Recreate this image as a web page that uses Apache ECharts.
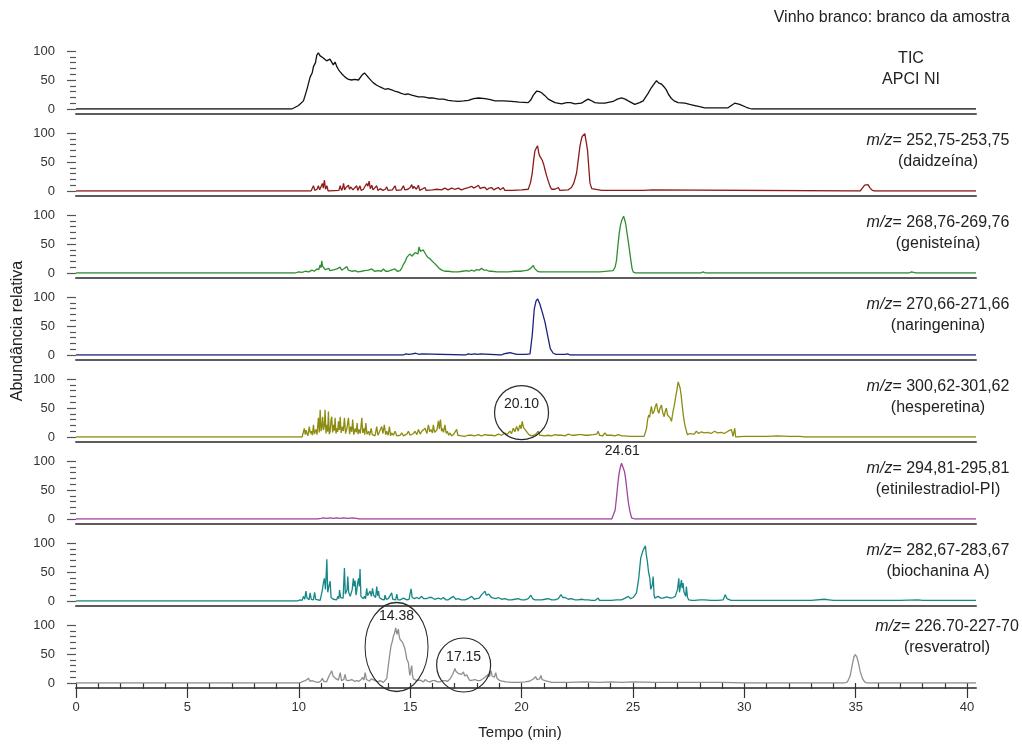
<!DOCTYPE html>
<html><head><meta charset="utf-8">
<script src="https://cdn.jsdelivr.net/npm/echarts@6/dist/echarts.min.js"></script>
<style>html,body{margin:0;padding:0;background:#fff}#c{width:1022px;height:745px}</style>
</head><body><div id="c"></div>
<script>
// ---------- tick labels ----------
const xTickLabels = [0, 5, 10, 15, 20, 25, 30, 35, 40];
const xMinorTicks = [0,1,2,3,4,5,6,7,8,9,10,11,12,13,14,15,16,17,18,19,20,21,22,23,24,25,26,27,28,29,30,31,32,33,34,35,36,37,38,39,40];
const yTickLabels = [0, 50, 100];

// ---------- texts ----------
const chartTitle = 'Vinho branco: branco da amostra';
const xAxisName = 'Tempo (min)';
const yAxisName = 'Abundância relativa';
const traceLine1 = ['TIC', '{i|m/z}= 252,75-253,75', '{i|m/z}= 268,76-269,76', '{i|m/z}= 270,66-271,66', '{i|m/z}= 300,62-301,62', '{i|m/z}= 294,81-295,81', '{i|m/z}= 282,67-283,67', '{i|m/z}= 226.70-227-70'];
const traceLine2 = ['APCI NI', '(daidzeína)', '(genisteína)', '(naringenina)', '(hesperetina)', '(etinilestradiol-PI)', '(biochanina A)', '(resveratrol)'];

// ---------- series data: [time (min), relative abundance] ----------
const tic = [[0,0],[9.69,0],[9.76,3],[9.99,6],[10.21,14],[10.36,33],[10.51,55],[10.6,62],[10.66,73],[10.75,80],[10.81,93],[10.88,97],[10.95,92],[11.03,94],[11.1,88],[11.18,87],[11.25,83],[11.33,81],[11.4,86],[11.48,84],[11.55,76],[11.63,81],[11.71,73],[11.78,68],[11.86,64],[11.95,60],[12.08,55],[12.15,52],[12.23,51],[12.38,50],[12.5,51],[12.68,50],[12.83,58],[12.95,62],[13.05,58],[13.13,54],[13.25,49],[13.35,45],[13.5,41],[13.65,38],[13.87,34],[14.0,35],[14.17,33],[14.3,31],[14.47,29],[14.6,27],[14.77,25],[14.9,26],[15.07,24],[15.37,21],[15.6,21],[15.82,19],[16.0,19],[16.27,17],[16.5,17],[16.71,15],[16.9,14],[17.16,13],[17.4,14],[17.61,15],[17.85,18],[18.06,19],[18.36,18],[18.6,16],[18.81,14],[19.2,14],[19.55,13],[19.9,12],[20.3,11],[20.42,16],[20.53,24],[20.68,31],[20.8,30],[20.9,28],[21.05,23],[21.2,17],[21.5,11],[21.8,9],[22.02,11],[22.2,11],[22.39,9],[22.69,10],[22.85,14],[22.99,17],[23.1,15],[23.29,11],[23.5,10],[23.74,10],[24.11,13],[24.3,17],[24.49,19],[24.65,17],[24.79,14],[25.08,8],[25.3,11],[25.46,14],[25.68,27],[25.8,35],[25.91,41],[26.06,49],[26.15,45],[26.28,43],[26.4,38],[26.5,33],[26.6,25],[26.73,18],[26.85,14],[27.03,11],[27.33,10],[27.55,8],[27.78,6],[28.0,4],[28.22,2],[29.27,2],[29.45,7],[29.57,10],[29.79,8],[30.09,3],[30.32,0],[40.4,0]];

const daidzeina = [[0,0],[10.55,0],[10.6,2],[10.66,9],[10.72,1],[10.82,3],[10.88,9],[10.94,2],[11.0,4],[11.06,13],[11.1,5],[11.15,19],[11.2,3],[11.26,9],[11.32,0],[11.8,1],[11.86,9],[11.92,1],[11.97,5],[12.01,13],[12.06,2],[12.12,6],[12.18,4],[12.23,10],[12.28,3],[12.33,7],[12.38,10],[12.43,2],[12.5,5],[12.6,9],[12.65,1],[12.7,5],[12.75,9],[12.8,1],[12.9,3],[12.98,6],[13.05,13],[13.1,8],[13.16,17],[13.21,4],[13.28,10],[13.33,2],[13.4,5],[13.5,9],[13.55,1],[13.65,4],[13.72,7],[13.78,1],[13.88,3],[13.95,7],[14.0,1],[14.2,2],[14.32,9],[14.38,1],[14.6,2],[14.7,9],[14.76,2],[14.9,3],[15.0,6],[15.07,11],[15.12,4],[15.17,8],[15.22,9],[15.28,3],[15.37,10],[15.43,1],[15.67,6],[15.72,1],[16.0,2],[16.2,3],[16.4,2],[16.56,5],[16.7,2],[16.86,5],[17.0,3],[17.16,5],[17.3,2],[17.45,4],[17.61,6],[17.76,8],[17.85,5],[17.95,7],[18.06,10],[18.15,4],[18.25,6],[18.36,6],[18.45,2],[18.55,5],[18.66,6],[18.75,2],[18.85,4],[18.96,6],[19.05,2],[19.18,6],[19.25,1],[19.6,1],[20.0,2],[20.3,3],[20.4,14],[20.48,31],[20.55,55],[20.6,69],[20.66,74],[20.72,78],[20.77,66],[20.82,60],[20.88,62],[20.93,53],[21.0,45],[21.05,37],[21.12,27],[21.2,17],[21.28,8],[21.35,3],[21.5,3],[21.65,6],[21.72,1],[21.8,1],[22.1,2],[22.24,6],[22.35,14],[22.47,31],[22.55,55],[22.62,77],[22.68,88],[22.72,94],[22.78,91],[22.84,99],[22.9,85],[22.96,71],[23.02,40],[23.07,14],[23.15,4],[23.22,1],[23.6,1],[24.0,1],[24.5,1],[25.0,1],[25.5,1],[25.85,2],[25.9,0],[35.2,0],[35.3,5],[35.4,10],[35.47,13],[35.55,11],[35.65,5],[35.75,1],[35.85,0],[40.4,0]];

const genisteina = [[0,0],[9.85,0],[9.99,2],[10.15,1],[10.29,3],[10.45,2],[10.59,5],[10.7,3],[10.81,7],[10.9,6],[10.96,14],[11.0,9],[11.03,21],[11.07,12],[11.11,10],[11.18,6],[11.26,5],[11.35,8],[11.4,4],[11.48,4],[11.6,6],[11.71,7],[11.78,4],[11.86,10],[11.92,5],[12.01,7],[12.08,4],[12.16,11],[12.22,5],[12.3,5],[12.4,3],[12.53,4],[12.65,2],[12.83,3],[12.95,4],[13.13,5],[13.2,3],[13.28,7],[13.4,3],[13.58,4],[13.7,3],[13.8,7],[13.9,3],[14.02,3],[14.15,5],[14.32,7],[14.42,3],[14.55,4],[14.63,9],[14.7,15],[14.78,20],[14.85,27],[14.92,24],[14.99,33],[15.07,29],[15.14,30],[15.22,35],[15.29,38],[15.35,33],[15.4,45],[15.46,37],[15.52,35],[15.58,40],[15.64,39],[15.72,31],[15.79,27],[15.88,25],[15.97,21],[16.08,17],[16.19,13],[16.3,8],[16.42,5],[16.55,3],[16.71,3],[16.9,2],[17.16,2],[17.35,3],[17.54,4],[17.65,3],[17.76,5],[17.88,3],[17.98,6],[18.1,5],[18.21,8],[18.3,5],[18.43,5],[18.55,3],[18.66,3],[18.9,2],[19.11,2],[19.4,2],[19.7,3],[19.95,3],[20.15,4],[20.28,5],[20.38,7],[20.45,6],[20.53,13],[20.58,8],[20.63,7],[20.72,3],[20.82,2],[21.5,2],[22.5,2],[23.5,2],[24.11,4],[24.2,10],[24.26,21],[24.32,45],[24.38,67],[24.44,82],[24.49,90],[24.54,88],[24.58,98],[24.63,92],[24.68,84],[24.73,70],[24.79,55],[24.85,38],[24.91,21],[24.96,8],[25.01,2],[25.1,0],[28.05,0],[28.15,2],[28.25,0],[37.4,0],[37.5,2],[37.6,1],[37.7,0],[40.4,0]];

const naringenina = [[0,0],[14.7,0],[14.8,2],[14.95,1],[15.1,2],[15.25,3],[15.4,1],[15.52,2],[15.6,0],[17.5,0],[17.6,2],[17.75,1],[17.9,2],[18.05,1],[18.15,2],[18.2,0],[19.1,0],[19.2,2],[19.35,3],[19.5,4],[19.6,3],[19.7,2],[19.8,1],[20.2,1],[20.38,2],[20.48,34],[20.57,79],[20.65,93],[20.72,97],[20.77,94],[20.82,88],[20.93,74],[21.05,57],[21.17,34],[21.29,11],[21.42,3],[21.55,1],[21.65,1],[21.95,1],[22.07,2],[22.12,1],[22.17,0],[40.4,0]];

const hesperetina = [[0,0],[10.15,0],[10.21,1],[10.25,15],[10.29,4],[10.33,12],[10.36,7],[10.41,2],[10.47,18],[10.52,6],[10.56,10],[10.61,3],[10.66,21],[10.7,5],[10.77,13],[10.82,4],[10.88,33],[10.92,8],[10.96,47],[11.0,10],[11.03,15],[11.07,35],[11.11,12],[11.15,20],[11.18,47],[11.22,6],[11.26,21],[11.3,9],[11.33,44],[11.37,5],[11.41,10],[11.45,30],[11.48,35],[11.52,8],[11.56,21],[11.6,11],[11.63,33],[11.67,6],[11.71,15],[11.75,9],[11.78,27],[11.82,12],[11.86,35],[11.9,7],[11.96,18],[12.0,10],[12.05,33],[12.1,6],[12.16,15],[12.2,12],[12.23,33],[12.28,5],[12.33,18],[12.38,9],[12.42,30],[12.47,4],[12.53,15],[12.58,8],[12.62,24],[12.66,5],[12.71,13],[12.76,6],[12.83,33],[12.87,7],[12.92,15],[12.96,4],[13.01,24],[13.06,5],[13.13,10],[13.18,3],[13.25,15],[13.3,4],[13.35,7],[13.42,2],[13.5,18],[13.55,3],[13.6,7],[13.66,4],[13.72,18],[13.78,6],[13.84,21],[13.9,4],[13.95,10],[14.01,3],[14.07,18],[14.12,2],[14.17,7],[14.25,3],[14.32,10],[14.4,2],[14.47,4],[14.55,3],[14.62,7],[14.7,2],[14.77,3],[14.85,5],[14.92,10],[15.0,3],[15.07,4],[15.15,6],[15.22,10],[15.3,4],[15.37,13],[15.45,5],[15.52,10],[15.6,8],[15.67,15],[15.75,6],[15.82,21],[15.88,9],[15.94,13],[16.0,7],[16.04,21],[16.1,8],[16.15,10],[16.2,12],[16.27,28],[16.31,14],[16.36,30],[16.41,10],[16.45,15],[16.5,8],[16.56,21],[16.62,6],[16.67,10],[16.73,3],[16.79,7],[16.85,2],[16.94,4],[17.02,2],[17.09,13],[17.14,3],[17.19,4],[17.3,2],[17.46,1],[17.6,3],[17.76,3],[17.9,2],[18.06,4],[18.2,2],[18.36,4],[18.5,3],[18.66,3],[18.8,2],[18.96,5],[19.1,3],[19.26,7],[19.35,4],[19.48,10],[19.55,6],[19.63,15],[19.7,9],[19.78,18],[19.85,10],[19.93,21],[19.98,14],[20.03,27],[20.09,16],[20.15,18],[20.21,10],[20.27,13],[20.33,4],[20.38,7],[20.45,2],[20.53,3],[20.62,4],[20.75,10],[20.82,3],[20.9,4],[21.05,2],[21.2,3],[21.35,2],[21.5,4],[21.65,3],[21.8,3],[21.95,2],[22.1,5],[22.25,3],[22.39,3],[22.55,4],[22.69,4],[22.85,3],[22.99,3],[23.2,4],[23.37,5],[23.44,10],[23.5,3],[23.56,4],[23.65,2],[23.74,7],[23.82,3],[23.9,4],[24.04,3],[24.2,2],[24.34,4],[24.5,2],[24.64,2],[24.85,1],[25.08,1],[25.3,1],[25.5,1],[25.56,8],[25.61,15],[25.66,30],[25.71,38],[25.75,34],[25.79,45],[25.83,53],[25.88,40],[25.95,44],[26.0,52],[26.06,58],[26.11,46],[26.16,41],[26.22,50],[26.28,55],[26.34,42],[26.4,35],[26.45,44],[26.5,50],[26.55,38],[26.61,41],[26.67,33],[26.73,27],[26.8,44],[26.86,55],[26.91,67],[26.97,80],[27.03,95],[27.07,98],[27.12,84],[27.17,70],[27.21,55],[27.27,35],[27.33,21],[27.4,10],[27.45,4],[27.55,6],[27.63,7],[27.75,5],[27.85,10],[27.95,6],[28.07,9],[28.2,7],[28.37,8],[28.5,6],[28.67,10],[28.8,7],[28.97,8],[29.1,6],[29.27,10],[29.35,8],[29.42,13],[29.49,1],[29.53,8],[29.57,15],[29.61,0],[30.0,1],[30.5,1],[31.0,1],[31.5,2],[32.0,1],[32.5,1],[32.7,0],[40.4,0]];

const etinilestradiol = [[0,0],[10.85,0],[10.9,2],[11.0,1],[11.1,2],[11.25,1],[11.4,2],[11.55,1],[11.7,2],[11.85,1],[12.0,2],[12.2,1],[12.4,2],[12.6,1],[12.7,0],[24.05,0],[24.11,2],[24.2,15],[24.26,36],[24.32,60],[24.38,79],[24.44,90],[24.49,96],[24.52,97],[24.56,93],[24.62,82],[24.67,70],[24.73,50],[24.79,30],[24.86,14],[24.94,2],[25.0,1],[25.08,0],[40.4,0]];

const biochanina = [[0,0],[4.25,0],[4.3,2],[4.35,0],[9.95,0],[10.06,2],[10.15,1],[10.21,8],[10.27,3],[10.32,17],[10.37,5],[10.41,8],[10.46,2],[10.51,14],[10.56,3],[10.62,5],[10.66,2],[10.71,15],[10.76,3],[10.81,1],[10.96,1],[11.02,3],[11.06,19],[11.1,30],[11.15,39],[11.2,20],[11.26,72],[11.3,15],[11.33,17],[11.37,28],[11.41,34],[11.45,6],[11.48,6],[11.55,3],[11.63,5],[11.7,2],[11.75,8],[11.8,4],[11.83,19],[11.88,6],[11.93,8],[11.99,5],[12.05,57],[12.09,12],[12.13,11],[12.17,20],[12.2,42],[12.24,15],[12.27,17],[12.31,8],[12.35,11],[12.4,20],[12.45,39],[12.49,25],[12.53,35],[12.57,10],[12.6,17],[12.64,30],[12.68,39],[12.72,25],[12.75,55],[12.79,8],[12.83,5],[12.9,4],[12.95,8],[13.0,4],[13.05,22],[13.09,9],[13.13,11],[13.17,6],[13.2,17],[13.26,8],[13.31,22],[13.36,10],[13.4,8],[13.45,6],[13.5,25],[13.54,9],[13.58,17],[13.62,6],[13.65,8],[13.72,3],[13.8,5],[13.84,2],[13.87,10],[13.93,3],[14.02,4],[14.1,2],[14.17,14],[14.22,3],[14.29,4],[14.35,2],[14.4,12],[14.45,2],[14.55,2],[14.62,4],[14.7,5],[14.78,2],[14.85,2],[14.95,3],[15.04,21],[15.09,6],[15.14,8],[15.2,4],[15.29,6],[15.4,4],[15.52,8],[15.6,4],[15.74,4],[15.85,6],[15.97,6],[16.1,3],[16.27,5],[16.38,3],[16.49,6],[16.6,2],[16.71,2],[16.82,5],[16.94,8],[17.05,3],[17.16,4],[17.3,2],[17.46,2],[17.6,4],[17.76,8],[17.88,3],[17.98,4],[18.1,5],[18.21,11],[18.28,8],[18.36,17],[18.42,10],[18.48,8],[18.53,12],[18.58,14],[18.65,6],[18.73,8],[18.85,4],[18.96,6],[19.1,3],[19.26,4],[19.4,2],[19.55,2],[19.7,3],[19.85,4],[20.0,2],[20.15,2],[20.3,4],[20.42,10],[20.5,4],[20.6,2],[20.75,2],[20.9,2],[21.05,3],[21.2,4],[21.35,2],[21.5,2],[21.65,4],[21.77,11],[21.85,6],[21.95,6],[22.1,3],[22.24,4],[22.4,2],[22.54,2],[22.7,3],[22.84,2],[23.0,2],[23.14,1],[23.3,1],[23.44,5],[23.5,1],[23.59,1],[23.8,1],[24.04,1],[24.25,2],[24.49,2],[24.65,5],[24.79,8],[24.9,4],[25.01,6],[25.08,4],[25.16,14],[25.26,39],[25.35,74],[25.42,83],[25.46,88],[25.51,85],[25.56,95],[25.6,80],[25.65,68],[25.7,50],[25.76,39],[25.8,20],[25.83,17],[25.87,28],[25.91,42],[25.95,10],[25.98,5],[26.05,8],[26.13,8],[26.25,5],[26.36,5],[26.5,7],[26.58,8],[26.7,5],[26.8,6],[26.9,8],[26.95,11],[27.0,20],[27.06,39],[27.09,15],[27.12,17],[27.15,30],[27.18,36],[27.21,22],[27.25,31],[27.29,16],[27.33,17],[27.37,8],[27.4,25],[27.45,6],[27.51,2],[27.65,1],[27.78,1],[28.0,2],[28.22,2],[28.5,1],[28.82,1],[29.05,2],[29.15,11],[29.22,4],[29.27,2],[29.4,1],[29.72,1],[30.0,1],[30.32,1],[31.0,1],[32.0,1],[33.0,1],[33.6,3],[33.8,2],[34.0,1],[35.0,1],[36.0,1],[37.0,1],[37.8,2],[38.0,1],[40.4,1]];

const resveratrol = [[0,0],[10.0,0],[10.1,1],[10.2,3],[10.29,4],[10.35,2],[10.44,8],[10.5,3],[10.59,4],[10.66,7],[10.75,2],[10.88,1],[10.98,3],[11.06,8],[11.12,3],[11.18,4],[11.25,2],[11.33,10],[11.4,12],[11.48,21],[11.54,12],[11.6,14],[11.65,8],[11.71,10],[11.78,5],[11.86,18],[11.92,4],[11.96,4],[12.02,6],[12.08,15],[12.13,5],[12.23,4],[12.3,6],[12.38,6],[12.5,3],[12.6,4],[12.7,3],[12.8,6],[12.86,10],[12.92,5],[12.98,18],[13.04,6],[13.1,6],[13.18,3],[13.25,7],[13.33,4],[13.43,4],[13.55,2],[13.65,4],[13.72,2],[13.8,1],[13.87,2],[13.95,8],[14.02,30],[14.08,48],[14.14,64],[14.2,72],[14.25,81],[14.3,86],[14.35,95],[14.41,84],[14.47,93],[14.51,80],[14.55,75],[14.62,78],[14.66,70],[14.7,67],[14.74,62],[14.77,58],[14.81,50],[14.85,41],[14.89,44],[14.92,35],[14.96,20],[14.99,13],[15.03,22],[15.07,30],[15.1,15],[15.14,7],[15.22,10],[15.3,4],[15.37,2],[15.45,5],[15.52,4],[15.6,2],[15.67,6],[15.78,3],[15.89,2],[16.0,4],[16.12,4],[16.22,2],[16.34,2],[16.45,4],[16.56,4],[16.68,3],[16.79,7],[16.85,10],[16.91,15],[16.96,20],[17.01,25],[17.06,20],[17.12,21],[17.18,16],[17.24,18],[17.3,15],[17.39,19],[17.45,12],[17.54,14],[17.62,8],[17.69,4],[17.8,5],[17.91,6],[18.02,4],[18.13,4],[18.25,7],[18.36,10],[18.44,12],[18.51,15],[18.56,11],[18.63,21],[18.68,12],[18.73,14],[18.78,10],[18.84,18],[18.9,8],[18.96,7],[19.03,4],[19.11,2],[19.3,2],[19.55,1],[19.85,1],[20.15,2],[20.35,3],[20.53,7],[20.58,5],[20.63,11],[20.69,6],[20.75,8],[20.81,7],[20.87,13],[20.92,6],[20.97,7],[21.05,4],[21.12,3],[21.35,1],[22.1,1],[22.84,2],[23.5,1],[24.0,2],[24.5,1],[25.0,2],[26.0,1],[27.0,1],[28.0,1],[29.0,1],[30.0,0],[34.5,0],[34.63,2],[34.75,12],[34.85,32],[34.92,45],[34.98,49],[35.05,45],[35.12,35],[35.2,20],[35.3,8],[35.4,2],[35.5,0],[40.4,0]];

// ---------- annotations: [panel index, label, time, abundance] ----------
const circleNotes = [[4, '20.10', 20.0, 42], [7, '14.38', 14.39, 62], [7, '17.15', 17.4, 31]];
const peakNotes = [[5, '24.61', 24.52, 97]];

// ---------- build ----------
const traces = [tic, daidzeina, genisteina, naringenina, hesperetina, etinilestradiol, biochanina, resveratrol];
const colors = ['#111111', '#8e1b1b', '#2f8f2f', '#1c247a', '#8c8c12', '#a045a0', '#168787', '#8f8f8f'];
const FONT = "'Liberation Sans', Arial, sans-serif";
const Y0 = 109, STEP = 82, H = 58, LEFT = 76, RIGHT = 46, XMAX = 40.4;

const grids = [], xAxes = [], yAxes = [], series = [], graphics = [];
traces.forEach((d, i) => {
  const y0 = Y0 + STEP * i;
  grids.push({ left: LEFT, right: RIGHT, top: y0 - H, height: H });
  const last = i === traces.length - 1;
  xAxes.push({
    type: 'value', gridIndex: i, min: 0, max: XMAX, position: 'bottom', offset: 5,
    axisLine: { onZero: false, lineStyle: { color: '#5c5c5c', width: 2 } },
    axisTick: last ? { show: true, customValues: xTickLabels, length: 10, lineStyle: { color: '#333', width: 1.2 } } : { show: false },
    axisLabel: last ? { show: true, customValues: xTickLabels, margin: 13, color: '#333', fontSize: 13, fontFamily: FONT } : { show: false },
    splitLine: { show: false }
  });
  yAxes.push({
    type: 'value', gridIndex: i, min: 0, max: 100, interval: 50,
    axisLine: { show: false },
    axisTick: { show: true, length: 9, lineStyle: { color: '#555', width: 1.2 } },
    minorTick: { show: true, splitNumber: 5, length: 6, lineStyle: { color: '#555', width: 1.2 } },
    axisLabel: { margin: 21, color: '#333', fontSize: 13, fontFamily: FONT },
    splitLine: { show: false }, minorSplitLine: { show: false }
  });
  const s = {
    type: 'line', xAxisIndex: i, yAxisIndex: i, data: d, showSymbol: false, symbol: 'none',
    lineStyle: { color: colors[i], width: 1.3 }, itemStyle: { color: colors[i] }, animation: false, silent: true
  };
  const mp = [];
  circleNotes.filter(n => n[0] === i).forEach(n => {
    const big = n[1] === '14.38';
    mp.push({
      coord: [n[2], n[3]], symbol: 'circle', symbolSize: big ? [63, 89] : [54, 54],
      itemStyle: { color: 'rgba(0,0,0,0)', borderColor: '#2a2a2a', borderWidth: 1.2 },
      label: { show: true, formatter: n[1], position: 'inside', offset: [0, big ? -31 : -8], color: '#222', fontSize: 14, fontFamily: FONT }
    });
  });
  peakNotes.filter(n => n[0] === i).forEach(n => {
    mp.push({
      coord: [n[2], n[3]], symbol: 'circle', symbolSize: 1,
      itemStyle: { color: 'rgba(0,0,0,0)' },
      label: { show: true, formatter: n[1], position: 'top', distance: 4, color: '#222', fontSize: 14, fontFamily: FONT }
    });
  });
  if (mp.length) s.markPoint = { silent: true, animation: false, data: mp };
  series.push(s);

  const cx = i === 0 ? 911 : (last ? 947 : 938);
  const dy = last ? -6 : 0;
  const ts = { fill: '#222', fontSize: 16, fontFamily: FONT, align: 'center', verticalAlign: 'middle', rich: { i: { fontStyle: 'italic', fontSize: 16, fontFamily: FONT, fill: '#222' } } };
  graphics.push({ type: 'text', x: cx, y: y0 - 50 + dy, silent: true, style: Object.assign({}, ts, { text: traceLine1[i] }) });
  graphics.push({ type: 'text', x: cx, y: y0 - 29 + dy, silent: true, style: Object.assign({}, ts, { text: traceLine2[i] }) });
});
// minor ticks on the time axis
xAxes.push({
  type: 'value', gridIndex: traces.length - 1, min: 0, max: XMAX, position: 'bottom', offset: 5,
  axisLine: { show: false },
  axisTick: { show: true, customValues: xMinorTicks, length: 6, lineStyle: { color: '#333', width: 1.2 } },
  axisLabel: { show: false }, splitLine: { show: false }
});

graphics.push({ type: 'text', x: 1010, y: 18, silent: true, style: { text: chartTitle, fill: '#222', fontSize: 16, fontFamily: FONT, align: 'right', verticalAlign: 'middle' } });
graphics.push({ type: 'text', x: 520, y: 733, silent: true, style: { text: xAxisName, fill: '#222', fontSize: 15, fontFamily: FONT, align: 'center', verticalAlign: 'middle' } });
graphics.push({ type: 'text', x: 18, y: 331, rotation: Math.PI / 2, silent: true, style: { text: yAxisName, fill: '#222', fontSize: 16, fontFamily: FONT, align: 'center', verticalAlign: 'middle' } });

const chart = echarts.init(document.getElementById('c'), null, { renderer: 'canvas' });
chart.setOption({
  backgroundColor: '#ffffff', animation: false,
  grid: grids, xAxis: xAxes, yAxis: yAxes, series: series, graphic: graphics
});
</script>
</body></html>
